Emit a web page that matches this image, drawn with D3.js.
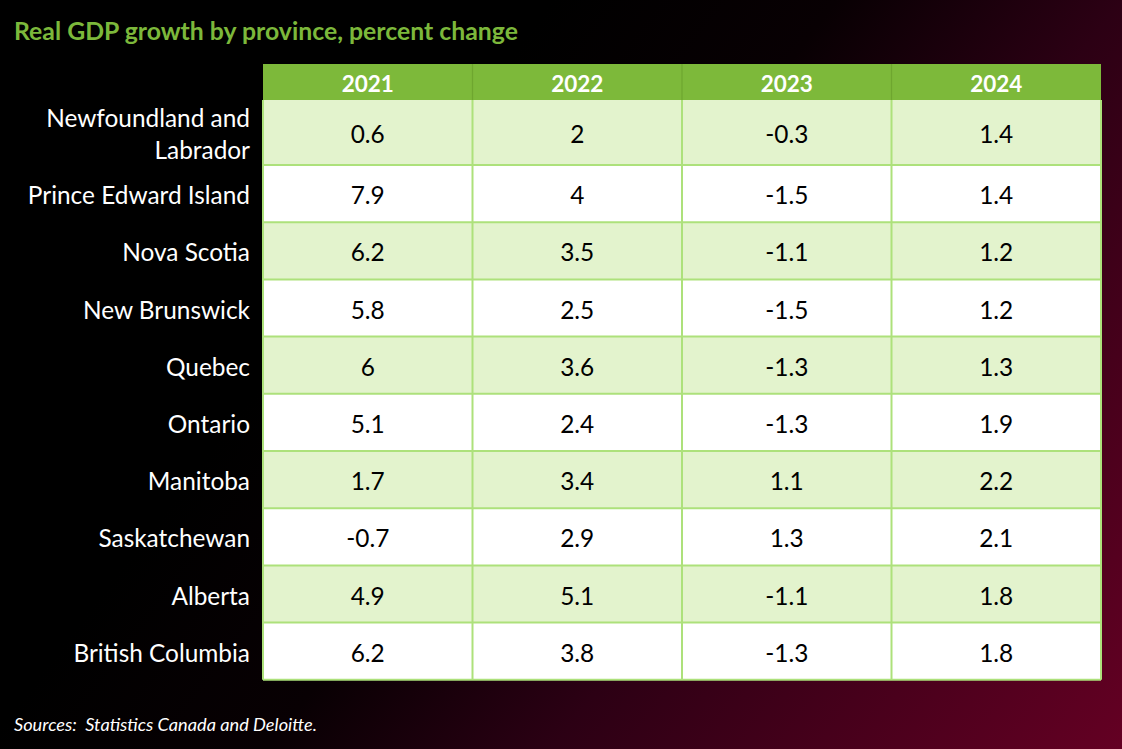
<!DOCTYPE html>
<html><head><meta charset="utf-8">
<script src="https://cdn.jsdelivr.net/npm/d3@7"></script>
<style>html,body{margin:0;padding:0;background:#000;overflow:hidden}</style>
</head><body>
<script>
const title = "Real GDP growth by province, percent change";
const source = "Sources:  Statistics Canada and Deloitte.";
const years = ["2021", "2022", "2023", "2024"];
const provinces = [
  ["Newfoundland and", "Labrador"],
  ["Prince Edward Island"],
  ["Nova Scotia"],
  ["New Brunswick"],
  ["Quebec"],
  ["Ontario"],
  ["Manitoba"],
  ["Saskatchewan"],
  ["Alberta"],
  ["British Columbia"]
];
const g2021 = [0.6, 7.9, 6.2, 5.8, 6, 5.1, 1.7, -0.7, 4.9, 6.2];
const g2022 = [2, 4, 3.5, 2.5, 3.6, 2.4, 3.4, 2.9, 5.1, 3.8];
const g2023 = [-0.3, -1.5, -1.1, -1.5, -1.3, -1.3, 1.1, 1.3, -1.1, -1.3];
const g2024 = [1.4, 1.4, 1.2, 1.2, 1.3, 1.9, 2.2, 2.1, 1.8, 1.8];
const series = [g2021, g2022, g2023, g2024];

const W = 1122, H = 749;
const font = "Lato, 'Open Sans', sans-serif";
const svg = d3.select("body").append("svg").attr("width", W).attr("height", H);

const defs = svg.append("defs");
const grad = defs.append("linearGradient").attr("id", "bg")
  .attr("gradientUnits", "userSpaceOnUse")
  .attr("x1", 400).attr("y1", 200).attr("x2", W).attr("y2", H);
grad.append("stop").attr("offset", 0).attr("stop-color", "#000000");
grad.append("stop").attr("offset", 0.25).attr("stop-color", "#080003");
grad.append("stop").attr("offset", 0.5).attr("stop-color", "#2c0014");
grad.append("stop").attr("offset", 1).attr("stop-color", "#640023");
svg.append("rect").attr("width", W).attr("height", H).attr("fill", "url(#bg)");

// title
svg.append("text").attr("x", 14).attr("y", 40).text(title)
  .attr("fill", "#7cb83b").attr("font-family", font).attr("font-weight", 700).attr("font-size", 24.8);

// scales
const x = d3.scaleBand().domain(years).range([263, 1101]);
const headTop = 64, headBot = 100, firstH = 65, rowH = 57.2;
const rowTop = i => i === 0 ? headBot : headBot + firstH + (i - 1) * rowH;
const rowHt = i => i === 0 ? firstH : rowH;
const bottom = rowTop(provinces.length - 1) + rowH;

// header
svg.append("rect").attr("x", x.range()[0]).attr("y", headTop)
  .attr("width", x.range()[1] - x.range()[0]).attr("height", headBot - headTop).attr("fill", "#7db93a");
svg.selectAll(".hdiv").data(years.slice(1)).join("line")
  .attr("x1", d => x(d)).attr("x2", d => x(d)).attr("y1", headTop).attr("y2", headBot)
  .attr("stroke", "#6ea62f").attr("stroke-width", 1.2);
svg.selectAll(".htxt").data(years).join("text")
  .attr("x", d => x(d) + x.bandwidth() / 2).attr("y", (headTop + headBot) / 2 + 1)
  .attr("text-anchor", "middle").attr("dominant-baseline", "central")
  .attr("fill", "#fff").attr("font-family", font).attr("font-weight", 700).attr("font-size", 22.5)
  .text(d => d);

// rows
const rows = svg.selectAll(".row").data(provinces).join("g");
rows.append("rect").attr("x", x.range()[0]).attr("y", (d, i) => rowTop(i))
  .attr("width", x.range()[1] - x.range()[0]).attr("height", (d, i) => rowHt(i))
  .attr("fill", (d, i) => i % 2 === 0 ? "#e3f3cd" : "#ffffff");

// labels
rows.each(function(d, i) {
  const g = d3.select(this);
  const cy = rowTop(i) + rowHt(i) / 2;
  const lh = 32;
  d.forEach((line, k) => {
    g.append("text").attr("x", 250).attr("y", cy + (k - (d.length - 1) / 2) * lh + 1)
      .attr("text-anchor", "end").attr("dominant-baseline", "central")
      .attr("fill", "#fff").attr("font-family", font).attr("font-size", 24.4).text(line);
  });
  years.forEach((yr, j) => {
    g.append("text").attr("x", x(yr) + x.bandwidth() / 2).attr("y", cy + 1)
      .attr("text-anchor", "middle").attr("dominant-baseline", "central")
      .attr("fill", "#000").attr("font-family", font).attr("font-size", 24.4)
      .text(series[j][i]);
  });
});

// grid lines
const gridColor = "#ade17b";
const hLines = d3.range(1, provinces.length + 1).map(i => i < provinces.length ? rowTop(i) : bottom);
svg.selectAll(".hl").data(hLines).join("line")
  .attr("x1", x.range()[0]).attr("x2", x.range()[1]).attr("y1", d => d).attr("y2", d => d)
  .attr("stroke", gridColor).attr("stroke-width", 2);
svg.selectAll(".vl").data([...years.map(d => x(d)), x.range()[1]]).join("line")
  .attr("x1", d => d).attr("x2", d => d).attr("y1", headBot).attr("y2", bottom)
  .attr("stroke", gridColor).attr("stroke-width", 2);

// source
svg.append("text").attr("x", 14).attr("y", 731).text(source)
  .style("white-space", "pre")
  .attr("fill", "#fff").attr("font-family", font).attr("font-style", "italic").attr("font-size", 18.2);
</script>
</body></html>
